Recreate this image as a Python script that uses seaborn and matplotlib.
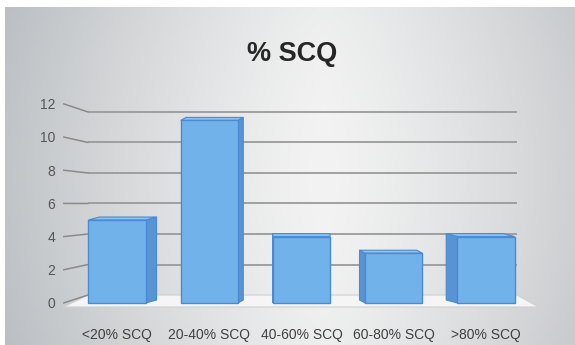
import matplotlib
matplotlib.use("Agg")
import matplotlib.pyplot as plt
import numpy as np
import pandas as pd
import seaborn as sns
from matplotlib.patches import Polygon, Rectangle

# -------------------------------------------------------------------------
# DATA
# -------------------------------------------------------------------------
categories = ["<20% SCQ", "20-40% SCQ", "40-60% SCQ", "60-80% SCQ", ">80% SCQ"]
values = [5, 11, 4, 3, 4]
y_ticks = [0, 2, 4, 6, 8, 10, 12]
title = "% SCQ"

df = pd.DataFrame({"group": categories, "count": values})

# -------------------------------------------------------------------------
# STYLE
# -------------------------------------------------------------------------
sns.set_theme(style="white")
plt.rcParams["font.family"] = ["Liberation Sans", "DejaVu Sans"]

W, H = 575, 345
fig = plt.figure(figsize=(W / 100, H / 100), dpi=100)
fig.patch.set_facecolor("white")

# gradient background (light in the middle, darker gray to the sides)
bg = fig.add_axes([5 / W, 0, (W - 5) / W, (H - 7) / H], zorder=0)
gx = np.linspace(-1, 1, 400)
gy = np.linspace(-1, 1, 240)
XX, YY = np.meshgrid(gx, gy)
shade = 1 - 0.58 * np.abs(XX - 0.12) ** 1.25 - 0.08 * np.abs(YY) ** 2
shade = np.clip(shade, 0, 1)
lo = np.array([168, 173, 178]) / 255
hi = np.array([243, 243, 243]) / 255
img = lo + (hi - lo) * shade[..., None]
bg.imshow(img, aspect="auto", extent=[0, 1, 0, 1], interpolation="bilinear")
bg.set_axis_off()

# plotting axes: front bar scale, 0 at pixel 303, 16.6 px per unit
y0_px, ppu = 303, 16.6
ymin, ymax = -0.5, 12.6
x_lo_px, x_step = 117, 92.25
xmin, xmax = -0.58, 4.57
ax_left = (x_lo_px + xmin * x_step) / W
ax_w = (xmax - xmin) * x_step / W
ax_bot = 1 - (y0_px - ymin * ppu) / H
ax_h = (ymax - ymin) * ppu / H
ax = fig.add_axes([ax_left, ax_bot, ax_w, ax_h], zorder=1)
ax.patch.set_alpha(0)

# back wall mapping (slightly smaller and higher than the front)
back_off, back_scale = 0.48, 0.919
wall_l, wall_r = -0.314, 4.336

# floor
floor_front = -0.24
floor = Polygon(
    [(xmin, floor_front), (xmax, floor_front), (wall_r, back_off), (wall_l, back_off)],
    closed=True, facecolor="#f5f5f5", edgecolor="#d0d0d0", lw=0.8, zorder=1,
)
ax.add_patch(floor)

# grid on back wall + connector lines to the tick labels
for t in y_ticks:
    yb = back_off + back_scale * t
    if t > 0:
        ax.plot([wall_l, wall_r], [yb, yb], color="#9a9a9a", lw=1.3, zorder=1.5,
                solid_capstyle="butt")
    ax.plot([xmin, wall_l], [t, yb], color="#8a8a8a", lw=1.1, zorder=1.5)

# bars
bar_face = "#72b2ea"
bar_edge = "#4a8ad2"
sns.barplot(data=df, x="group", y="count", color=bar_face, saturation=1,
            width=0.62, edgecolor=bar_edge, linewidth=1.0, ax=ax, zorder=3)

# pseudo 3D: side and top faces leaning toward the vanishing point
vanish_x, k_side, dy = 1.98, 0.06, 0.18
bars = [p for p in ax.patches if isinstance(p, Rectangle)]
for p in bars:
    xl = p.get_x()
    xr = xl + p.get_width()
    h = p.get_height()
    cx = (xl + xr) / 2
    dx = -(cx - vanish_x) * k_side
    xe = xr if dx > 0 else xl
    side = Polygon([(xe, 0), (xe, h), (xe + dx, h + dy), (xe + dx, dy)],
                   closed=True, facecolor="#5894d2", edgecolor=bar_edge,
                   lw=0.8, zorder=2.8)
    top = Polygon([(xl, h), (xr, h), (xr + dx, h + dy), (xl + dx, h + dy)],
                  closed=True, facecolor="#8cc2ee", edgecolor=bar_edge,
                  lw=0.8, zorder=2.9)
    ax.add_patch(side)
    ax.add_patch(top)

ax.set_xlim(xmin, xmax)
ax.set_ylim(ymin, ymax)
ax.set_yticks(y_ticks)
ax.set_yticklabels([str(t) for t in y_ticks], fontsize=10, color="#555555")
ax.tick_params(axis="y", length=0, pad=6)
ax.tick_params(axis="x", length=0, pad=12, labelsize=10, labelcolor="#404040")
ax.set_xlabel("")
ax.set_ylabel("")
for s in ax.spines.values():
    s.set_visible(False)
ax.grid(False)

fig.text(0.508, 1 - 54 / H, title, ha="center", va="center", fontsize=19.5,
         fontweight="bold", color="#262626")

fig.savefig("out.png", dpi=100)
